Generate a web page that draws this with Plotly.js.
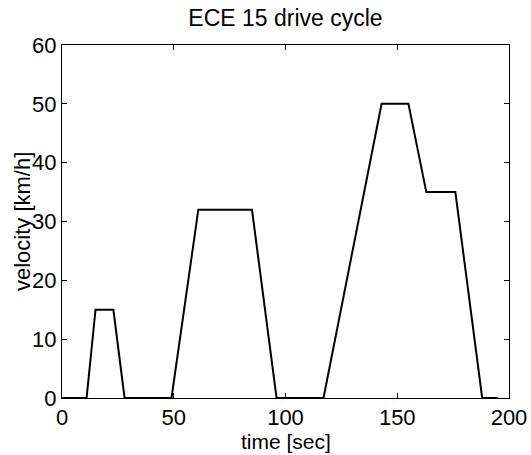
<!DOCTYPE html>
<html>
<head>
<meta charset="utf-8">
<script src="https://cdn.plot.ly/plotly-3.0.1.min.js"></script>
<style>html,body{margin:0;padding:0;background:#fff;}#chart{width:531px;height:455px;}</style>
</head>
<body>
<div id="chart"></div>
<script>
// ECE 15 drive cycle breakpoints
const timeSec = [0, 11, 15, 23, 28, 49, 61, 85, 96, 117, 143, 155, 163, 176, 188, 195];
const velocityKmh = [0, 0, 15, 15, 0, 0, 32, 32, 0, 0, 50, 50, 35, 35, 0, 0];
const xTicks = [0, 50, 100, 150, 200];
const yTicks = [0, 10, 20, 30, 40, 50, 60];
const titleText = 'ECE 15 drive cycle';
const xTitle = 'time [sec]';
const yTitle = 'velocity [km/h]';

const font = {family: 'Liberation Sans, Arial, Helvetica, sans-serif', color: '#000'};
const f = (s) => Object.assign({}, font, {size: s});

Plotly.newPlot('chart', [{
  x: timeSec, y: velocityKmh, type: 'scatter', mode: 'lines',
  line: {color: '#000', width: 2}, hoverinfo: 'skip'
}], {
  width: 531, height: 455,
  margin: {l: 61.5, r: 22, t: 45, b: 57},
  paper_bgcolor: '#fff', plot_bgcolor: '#fff',
  showlegend: false,
  title: {text: titleText, font: f(23), x: 0.5, xanchor: 'center', y: 1 - 18/455, yanchor: 'middle', xref: 'paper'},
  xaxis: {
    range: [0, 200], tickvals: xTicks, ticktext: xTicks.map(String),
    ticks: 'inside', ticklen: 5, tickcolor: '#000', tickwidth: 1,
    showline: true, linecolor: '#000', linewidth: 1, mirror: 'allticks',
    showgrid: false, zeroline: false, ticklabelstandoff: 0,
    tickfont: f(22), automargin: false
  },
  yaxis: {
    range: [0, 60], tickvals: yTicks, ticktext: yTicks.map(String),
    ticks: 'inside', ticklen: 5, tickcolor: '#000', tickwidth: 1,
    showline: true, linecolor: '#000', linewidth: 1, mirror: 'allticks',
    showgrid: false, zeroline: false,
    tickfont: f(22), automargin: false
  },
  annotations: [
    {text: xTitle, xref: 'paper', yref: 'paper', x: 0.5, y: -43/353, xanchor: 'center', yanchor: 'middle', showarrow: false, font: f(21)},
    {text: yTitle, xref: 'paper', yref: 'paper', x: -39.5/447.5, y: 0.5, xanchor: 'center', yanchor: 'middle', textangle: -90, showarrow: false, font: f(22)}
  ]
}, {staticPlot: true, displayModeBar: false});
</script>
</body>
</html>
